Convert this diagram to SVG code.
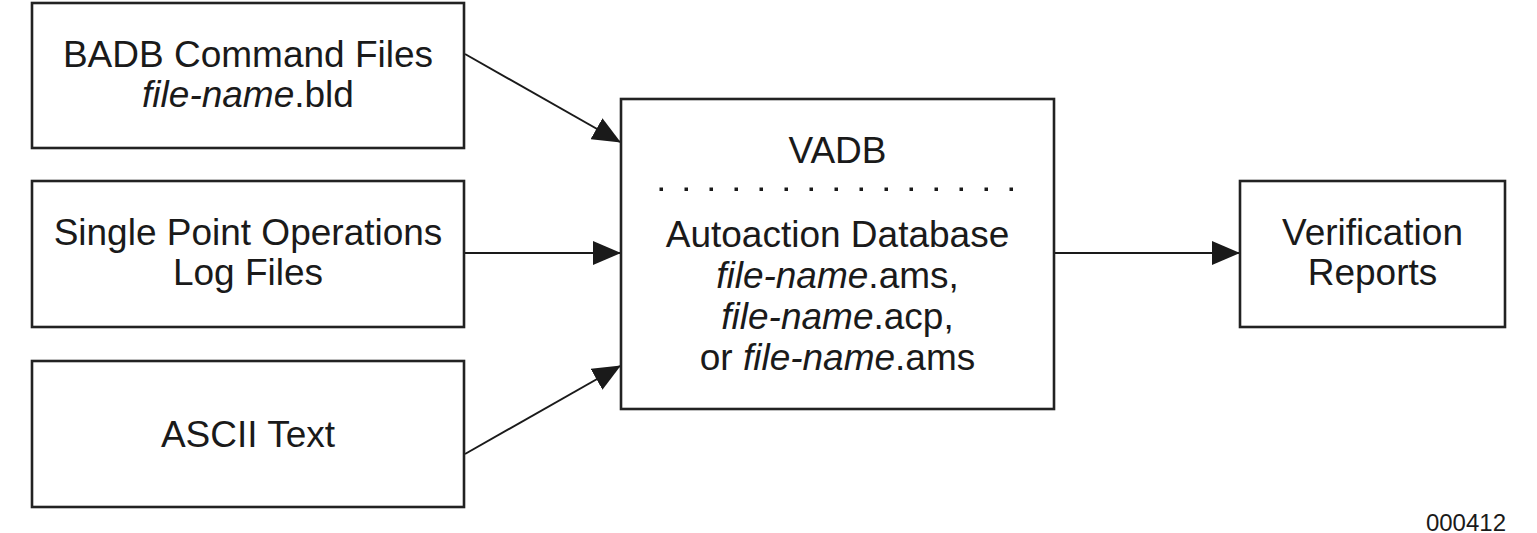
<svg xmlns="http://www.w3.org/2000/svg" width="1537" height="533" viewBox="0 0 1537 533">
<style>
  .box { fill: #ffffff; stroke: #222222; stroke-width: 2.6; }
  .lbl { font-family: "Liberation Sans", Arial, sans-serif; font-size: 37px; fill: #1a1a1a; text-anchor: middle; }
  .it { font-style: italic; }
  .conn { stroke: #1a1a1a; stroke-width: 2; fill: none; marker-end: url(#arrow); }
  .dot { fill: #1a1a1a; }
  .fig { font-family: "Liberation Sans", Arial, sans-serif; font-size: 24px; fill: #1a1a1a; text-anchor: end; }
</style>
<defs>
  <marker id="arrow" markerUnits="userSpaceOnUse" markerWidth="28" markerHeight="24" refX="27" refY="12" orient="auto">
    <path d="M0,0 L28,12 L0,24 Z" fill="#1a1a1a"/>
  </marker>
</defs>
<rect width="1537" height="533" fill="#ffffff"/>

<g id="connectors">
  <line class="conn" x1="465" y1="54" x2="620" y2="142"/>
  <line class="conn" x1="465" y1="253" x2="620" y2="253"/>
  <line class="conn" x1="465" y1="454" x2="620" y2="366"/>
  <line class="conn" x1="1055" y1="253" x2="1239" y2="253"/>
</g>

<g id="badb">
  <rect class="box" x="32" y="3" width="432" height="145"/>
  <text class="lbl" x="248" y="67">BADB Command Files</text>
  <text class="lbl" x="248" y="107"><tspan class="it">file-name</tspan>.bld</text>
</g>

<g id="spo">
  <rect class="box" x="32" y="181" width="432" height="146"/>
  <text class="lbl" x="248" y="245">Single Point Operations</text>
  <text class="lbl" x="248" y="285">Log Files</text>
</g>

<g id="ascii">
  <rect class="box" x="32" y="361" width="432" height="146"/>
  <text class="lbl" x="248" y="447">ASCII Text</text>
</g>

<g id="vadb">
  <rect class="box" x="621" y="99" width="433" height="310"/>
  <text class="lbl" x="837.5" y="163">VADB</text>
  <g>
    <rect class="dot" x="659.5" y="187.5" width="3.5" height="3.5"/>
    <rect class="dot" x="684.5" y="187.5" width="3.5" height="3.5"/>
    <rect class="dot" x="709.5" y="187.5" width="3.5" height="3.5"/>
    <rect class="dot" x="734.5" y="187.5" width="3.5" height="3.5"/>
    <rect class="dot" x="759.5" y="187.5" width="3.5" height="3.5"/>
    <rect class="dot" x="784.5" y="187.5" width="3.5" height="3.5"/>
    <rect class="dot" x="809.5" y="187.5" width="3.5" height="3.5"/>
    <rect class="dot" x="834.5" y="187.5" width="3.5" height="3.5"/>
    <rect class="dot" x="859.5" y="187.5" width="3.5" height="3.5"/>
    <rect class="dot" x="884.5" y="187.5" width="3.5" height="3.5"/>
    <rect class="dot" x="909.5" y="187.5" width="3.5" height="3.5"/>
    <rect class="dot" x="934.5" y="187.5" width="3.5" height="3.5"/>
    <rect class="dot" x="959.5" y="187.5" width="3.5" height="3.5"/>
    <rect class="dot" x="984.5" y="187.5" width="3.5" height="3.5"/>
    <rect class="dot" x="1009.5" y="187.5" width="3.5" height="3.5"/>
  </g>
  <text class="lbl" x="837.5" y="247">Autoaction Database</text>
  <text class="lbl" x="837.5" y="288"><tspan class="it">file-name</tspan>.ams,</text>
  <text class="lbl" x="837.5" y="329"><tspan class="it">file-name</tspan>.acp,</text>
  <text class="lbl" x="837.5" y="370">or <tspan class="it">file-name</tspan>.ams</text>
</g>

<g id="reports">
  <rect class="box" x="1240" y="181" width="265" height="146"/>
  <text class="lbl" x="1372.5" y="245">Verification</text>
  <text class="lbl" x="1372.5" y="285">Reports</text>
</g>

<text class="fig" x="1506" y="531">000412</text>
</svg>
